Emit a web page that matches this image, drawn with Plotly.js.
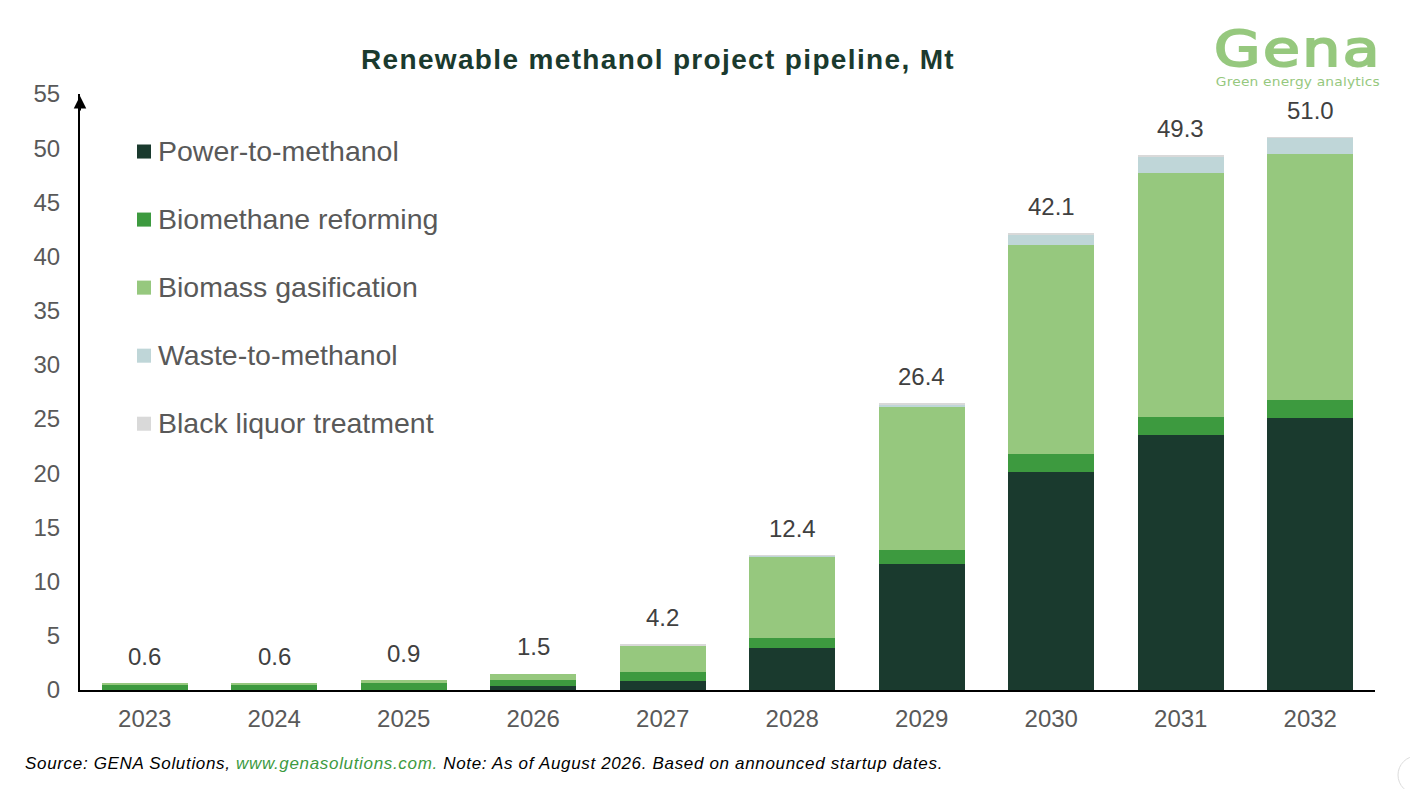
<!DOCTYPE html>
<html>
<head>
<meta charset="utf-8">
<script src="https://cdn.plot.ly/plotly-3.0.1.min.js"></script>
<style>
html,body{margin:0;padding:0;background:#fff;overflow:hidden}
#chart{width:1410px;height:789px}
.legend .legendtext{transform:translateX(-7px)}
.legend .legendpoints path{transform:translate(19px,1.5px) scale(1.17) !important}
.gtitle{letter-spacing:1.35px}
.annotation[data-index="11"] text{letter-spacing:0.67px}
.annotation[data-index="12"] text{transform-box:fill-box;transform-origin:center;transform:scaleX(1.2)}
</style>
</head>
<body>
<div id="chart"></div>
<script>
const years = ['2023','2024','2025','2026','2027','2028','2029','2030','2031','2032'];
const powerToMethanol = [0, 0, 0, 0.35, 0.8, 3.85, 11.6, 20.1, 23.5, 25.1];
const biomethaneReforming = [0.5, 0.5, 0.65, 0.55, 0.85, 0.95, 1.3, 1.7, 1.7, 1.65];
const biomassGasification = [0.1, 0.1, 0.25, 0.6, 2.45, 7.5, 13.2, 19.3, 22.5, 22.75];
const wasteToMethanol = [0, 0, 0, 0, 0.02, 0.07, 0.25, 0.92, 1.52, 1.45];
const blackLiquor = [0, 0, 0, 0, 0.08, 0.03, 0.05, 0.08, 0.08, 0.05];
const totals = [0.6, 0.6, 0.9, 1.5, 4.2, 12.4, 26.4, 42.1, 49.3, 51.0];
const seriesNames = ['Power-to-methanol','Biomethane reforming','Biomass gasification','Waste-to-methanol','Black liquor treatment'];
const seriesValues = [powerToMethanol, biomethaneReforming, biomassGasification, wasteToMethanol, blackLiquor];
const seriesColors = ['#1a3a2e','#3d9a3f','#96c87e','#bfd6d8','#d9d9d9'];
const yTicks = [0,5,10,15,20,25,30,35,40,45,50,55];

const FONT = '"Liberation Sans", Arial, sans-serif';

const traces = seriesNames.map((name,i)=>({
  type:'bar', name, x:years, y:seriesValues[i], legendgroup:name,
  marker:{color:seriesColors[i], line:{width:0}}, hoverinfo:'x+y+name'
}));

const totalLabels = years.map((yr,i)=>({
  xref:'x', yref:'y', x:i, y:totals[i], yanchor:'middle', yshift:27, showarrow:false,
  text:totals[i].toFixed(1), font:{family:FONT,size:24,color:'#404040'}
}));

const layout = {
  width:1410, height:789,
  margin:{l:80,r:35,t:94,b:99,autoexpand:false},
  paper_bgcolor:'#fff', plot_bgcolor:'#fff',
  barmode:'stack', bargap:0.335,
  font:{family:FONT},
  title:{text:'<b>Renewable methanol project pipeline, Mt</b>',
    font:{family:FONT,size:28,color:'#1a3a2e'},
    x:(658-80)/1295, xanchor:'center', xref:'paper', y:1-59/789, yanchor:'middle', yref:'container'},
  xaxis:{type:'category', categoryorder:'array', categoryarray:years, showgrid:false, zeroline:false,
    showline:true, linecolor:'#000', linewidth:2, ticks:'', automargin:false, ticklabelstandoff:6,
    tickfont:{family:FONT,size:24,color:'#595959'}},
  yaxis:{range:[0,55], tickmode:'array', tickvals:yTicks, ticktext:yTicks.map(String), showgrid:false, zeroline:false,
    showline:true, linecolor:'#000', linewidth:2, ticks:'', automargin:false, ticklabelstandoff:13,
    tickfont:{family:FONT,size:24,color:'#595959'}},
  legend:{x:(125-80)/1295, xanchor:'left', y:1-(125-94)/596, yanchor:'top', traceorder:'grouped',
    tracegroupgap:28, itemclick:false, itemdoubleclick:false, bgcolor:'rgba(0,0,0,0)',
    font:{family:FONT,size:28.5,color:'#595959'}},
  annotations:totalLabels.concat([
    {xref:'paper',yref:'paper',x:0,y:(690-96)/596,ax:0,ay:16,axref:'pixel',ayref:'pixel',showarrow:true,
     arrowhead:2,arrowsize:1.25,arrowwidth:2,arrowcolor:'#000',text:''},
    {xref:'paper',yref:'paper',xanchor:'left',yanchor:'middle',x:(23-80)/1295,y:(690-763)/596,showarrow:false,
     align:'left',font:{family:FONT,size:17,color:'#000'},
     text:'<i>Source: GENA Solutions, <span style="color:#3d9a3f">www.genasolutions.com.</span> Note: As of August 2026. Based on announced startup dates.</i>'},
    {xref:'paper',yref:'paper',xanchor:'center',yanchor:'middle',x:(1298-80)/1295,y:(690-54)/596,showarrow:false,align:'center',
     font:{family:'"DejaVu Sans", sans-serif',size:15.4,color:'#96c87e'},
     text:'<span style="font-size:50px;letter-spacing:2px;stroke:#96c87e;stroke-width:2px">Gena</span><br><span style="font-size:11.5px;letter-spacing:0.15px">Green energy analytics</span>'}
  ]),
  shapes:[
    {type:'circle',xref:'paper',yref:'paper',x0:(1398-80)/1295,x1:(1436-80)/1295,y0:(690-794)/596,y1:(690-756)/596,
     line:{color:'#dcdcdc',width:1},fillcolor:'rgba(0,0,0,0)'}
  ]
};
Plotly.newPlot('chart',traces,layout,{displayModeBar:false,responsive:false});
</script>
</body>
</html>
